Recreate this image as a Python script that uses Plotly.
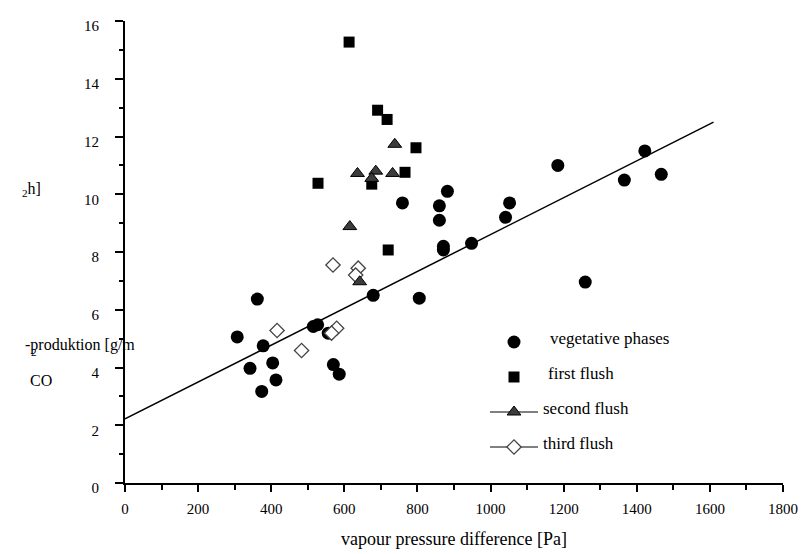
import plotly.graph_objects as go

# ---------------- data ----------------
veg_x = [307, 362, 342, 378, 374, 404, 413, 515, 527, 556, 570, 586, 679, 759, 805,
         860, 860, 871, 871, 882, 948, 1041, 1052, 1184, 1259, 1366, 1422, 1467]
veg_y = [5.06, 6.37, 3.97, 4.75, 3.17, 4.16, 3.57, 5.42, 5.48, 5.19, 4.1, 3.77, 6.5, 9.7, 6.4,
         9.6, 9.1, 8.2, 8.07, 10.1, 8.3, 9.2, 9.7, 11.0, 6.96, 10.49, 11.5, 10.69]

first_x = [613, 691, 717, 796, 766, 528, 675, 720]
first_y = [15.27, 12.91, 12.59, 11.61, 10.76, 10.38, 10.35, 8.07]

second_x = [738, 636, 686, 732, 675, 615, 642]
second_y = [11.73, 10.72, 10.8, 10.72, 10.55, 8.88, 6.97]

third_x = [569, 638, 631, 483, 579, 565, 416]
third_y = [7.55, 7.44, 7.2, 4.59, 5.36, 5.19, 5.28]

reg_x = [0, 1610]
reg_y = [2.22, 12.5]

x_ticks = [0, 200, 400, 600, 800, 1000, 1200, 1400, 1600, 1800]
y_ticks = [0, 2, 4, 6, 8, 10, 12, 14, 16]

legend_names = ["vegetative phases", "first flush", "second flush", "third flush"]

# ---------------- layout helpers ----------------
W, H = 804, 554
L, R, T, B = 125, 21, 21, 71
FONT = "'Liberation Serif', 'Times New Roman', Times, serif"


def pxp(x):
    return (x - L) / (W - L - R)


def pyp(y):
    return (H - B - y) / (H - T - B)


fig = go.Figure()

fig.add_trace(go.Scatter(x=reg_x, y=reg_y, mode="lines",
                         line=dict(color="black", width=1.5), showlegend=False,
                         hoverinfo="skip"))

tri_marker = dict(symbol="triangle-up", size=12, color="#3c3c3c",
                  line=dict(color="black", width=1))
dia_marker = dict(symbol="diamond", size=11, color="white",
                  line=dict(color="#444444", width=1.3))
circ_marker = dict(symbol="circle", size=13, color="black")
sq_marker = dict(symbol="square", size=11, color="black")

fig.add_trace(go.Scatter(x=veg_x, y=veg_y, mode="markers", marker=circ_marker,
                         showlegend=False, name=legend_names[0]))
fig.add_trace(go.Scatter(x=first_x, y=first_y, mode="markers", marker=sq_marker,
                         showlegend=False, name=legend_names[1]))
fig.add_trace(go.Scatter(x=third_x, y=third_y, mode="markers", marker=dia_marker,
                         showlegend=False, name=legend_names[3]))
fig.add_trace(go.Scatter(x=second_x, y=second_y, mode="markers", marker=tri_marker,
                         showlegend=False, name=legend_names[2]))

# ---------------- manual legend (pixel overlay axes) ----------------
leg_marker_x = [514, 514, 514, 514]
leg_marker_y = [342, 377, 412, 447]
leg_text_x = [548, 546, 541, 541]
leg_markers = [circ_marker, sq_marker, tri_marker, dia_marker]
for i in range(4):
    if i >= 2:
        fig.add_trace(go.Scatter(x=[490, 538], y=[leg_marker_y[i]] * 2, mode="lines",
                                 line=dict(color="black", width=1), xaxis="x2", yaxis="y2",
                                 showlegend=False, hoverinfo="skip"))
    fig.add_trace(go.Scatter(x=[leg_marker_x[i]], y=[leg_marker_y[i]], mode="markers",
                             marker=leg_markers[i], xaxis="x2", yaxis="y2",
                             showlegend=False, cliponaxis=False, hoverinfo="skip"))
    fig.add_annotation(x=pxp(leg_text_x[i]), y=pyp(leg_marker_y[i] - 4), xref="paper", yref="paper",
                       text=legend_names[i], showarrow=False, xanchor="left", yanchor="middle",
                       font=dict(family=FONT, size=17, color="black"))

# ---------------- odd y axis title pieces ----------------
ytitle = [
    ("<sub>2</sub>h]", 20, 189),
    ("-produktion [g/m", 23, 345),
    ("<sub>2</sub>", 29, 352),
    ("CO", 28, 380),
]
for txt, x0, y0 in ytitle:
    fig.add_annotation(x=pxp(x0), y=pyp(y0), xref="paper", yref="paper", text=txt,
                       showarrow=False, xanchor="left", yanchor="middle",
                       font=dict(family=FONT, size=16, color="black"))

fig.update_layout(
    width=W, height=H,
    margin=dict(l=L, r=R, t=T, b=B, autoexpand=False),
    paper_bgcolor="white", plot_bgcolor="white",
    font=dict(family=FONT, size=15, color="black"),
    xaxis=dict(range=[0, 1800], tickvals=x_ticks, ticks="outside", ticklen=7, tickwidth=2,
               tickcolor="black", showline=True, linecolor="black", linewidth=2,
               showgrid=False, zeroline=False, ticklabelstandoff=4, automargin=False,
               minor=dict(dtick=100, tick0=0, ticks="outside", ticklen=5, tickwidth=2,
                          tickcolor="black", showgrid=False),
               tickfont=dict(family=FONT, size=15),
               title=dict(text="vapour pressure difference [Pa]",
                          font=dict(family=FONT, size=18), standoff=16)),
    yaxis=dict(range=[0, 16], tickvals=y_ticks, ticks="outside", ticklen=8, tickwidth=2,
               tickcolor="black", showline=True, linecolor="black", linewidth=2,
               showgrid=False, zeroline=False, ticklabelstandoff=13, ticklabelshift=5,
               automargin=False,
               minor=dict(dtick=1, tick0=0, ticks="outside", ticklen=4, tickwidth=2,
                          tickcolor="black", showgrid=False),
               tickfont=dict(family=FONT, size=15)),
    xaxis2=dict(overlaying="x", range=[L, W - R], visible=False),
    yaxis2=dict(overlaying="y", range=[H - B, T], visible=False),
)

fig.write_html("out.html", config={"displayModeBar": False},
               post_script="document.body.style.margin='0px';document.body.style.padding='0px';")
